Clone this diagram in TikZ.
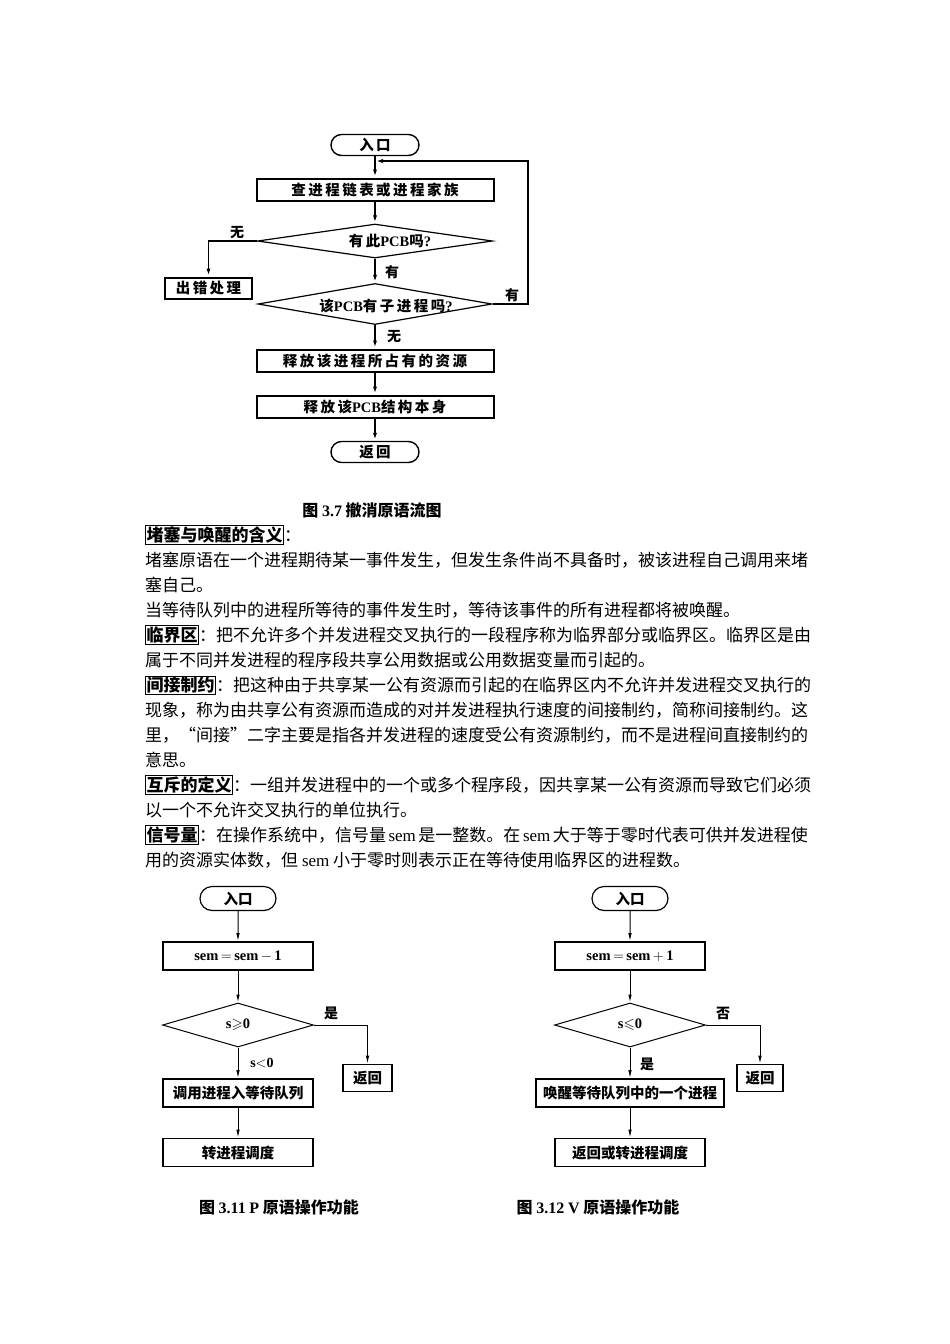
\documentclass[tikz,border=0pt]{standalone}
\usepackage{amssymb}
\usepackage{fontspec}
\setmainfont{Liberation Serif}
\newfontfamily\cjk{Noto Sans CJK SC}
\newfontfamily\cjksp{Noto Sans CJK SC}[LetterSpace=17]
\usetikzlibrary{shapes.geometric,shapes.misc,arrows.meta}
\XeTeXlinebreaklocale "zh"
\XeTeXlinebreakskip=0pt plus 2pt minus 1pt
\newcommand\en[1]{{\rmfamily #1}}
\newcommand\kw[1]{{\setlength\fboxsep{0.6pt}\setlength\fboxrule{0.8pt}\fbox{\bfseries #1}}}
\newcommand\fullline[1]{\makebox[661pt][s]{#1}}

\begin{document}
\begin{tikzpicture}[x=1pt,y=-1pt,
    every node/.style={font=\cjk},
    % figure 3.7
    entry/.style={draw, rounded rectangle, line width=1.4pt, minimum width=88pt, minimum height=21pt, inner sep=0pt, font={\cjksp\bfseries\fontsize{14.5}{14.5}\selectfont}},
    procbox/.style={draw, line width=2pt, minimum width=237pt, minimum height=22pt, inner sep=0pt, font={\cjksp\bfseries\fontsize{14.5}{14.5}\selectfont}},
    ask/.style={draw, diamond, line width=1.2pt, inner sep=0pt},
    asktxt/.style={inner sep=0pt, font={\cjksp\bfseries\fontsize{14.5}{14.5}\selectfont}},
    tag/.style={inner sep=0pt, font={\cjk\bfseries\fontsize{14}{14}\selectfont}},
    flow/.style={-{Latex[length=8pt,width=4pt]}, line width=1.8pt},
    % figures 3.11 and 3.12
    pentry/.style={draw, rounded rectangle, line width=1.2pt, minimum width=76pt, minimum height=24pt, inner sep=0pt, font={\cjk\bfseries\fontsize{14.5}{14.5}\selectfont}},
    pbox/.style={draw, line width=1.6pt, minimum width=150pt, minimum height=28pt, inner sep=0pt, font={\cjk\bfseries\fontsize{14.5}{14.5}\selectfont}},
    pask/.style={draw, diamond, line width=1pt, minimum width=151pt, minimum height=44pt, inner sep=0pt, font={\cjk\bfseries\fontsize{14.5}{14.5}\selectfont}},
    ptag/.style={inner sep=0pt, font={\cjk\bfseries\fontsize{14}{14}\selectfont}},
    pflow/.style={-{Latex[length=8pt,width=3.5pt]}, line width=1pt},
    figcap/.style={inner sep=0pt, font={\cjk\bfseries\fontsize{16}{16}\selectfont}},
    txt/.style={anchor=west, inner sep=0pt, font={\cjk\fontsize{17}{17}\selectfont}}]
  \useasboundingbox (0,0) rectangle (950,1344);

  % ---- Fig. 3.7 ----
  \node[entry] (in1) at (375,145) {入口};
  \node[procbox] (look) at (375,189.5) {查进程链表或进程家族};
  \node[ask, minimum width=235pt, minimum height=34pt] (hasp) at (375,241) {};
  \node[asktxt] (hasptxt) at (390,241) {有此\en{PCB}吗\en{?}};
  \node[procbox, minimum width=87pt, minimum height=21pt] (err) at (208.5,288) {出错处理};
  \node[ask, minimum width=234pt, minimum height=41pt] (child) at (375,304) {};
  \node[asktxt] (childtxt) at (386,306) {该\en{PCB}有子进程吗\en{?}};
  \node[procbox] (rel1) at (375,360.5) {释放该进程所占有的资源};
  \node[procbox] (rel2) at (375,406.5) {释放该\en{PCB}结构本身};
  \node[entry] (out1) at (375,452) {返回};
  \coordinate (back) at (375,161);
  \draw[flow] (in1) -- (look);
  \draw[flow] (look) -- (hasp);
  \draw[flow] (hasp.west) -| (err.north);
  \draw[flow] (hasp) -- (child);
  \draw[flow] (child) -- (rel1);
  \draw[flow] (rel1) -- (rel2);
  \draw[flow] (rel2) -- (out1);
  \draw[flow] (child.east) -- ++(35,0) |- (back);
  \node[tag] (no1) at (237,233) {无};
  \node[tag] (yes1) at (392,272) {有};
  \node[tag] (yes2) at (512,295) {有};
  \node[tag] (no2) at (394,337) {无};
  \node[figcap] (cap1) at (372,510) {图 \en{3.7} 撤消原语流图};

  % ---- text ----
  \node[txt] (t1) at (145,535) {\kw{堵塞与唤醒的含义}：};
  \node[txt] (t2) at (145,560) {\fullline{堵塞原语在一个进程期待某一事件发生，但发生条件尚不具备时，被该进程自己调用来堵}};
  \node[txt] (t3) at (145,585) {塞自己。};
  \node[txt] (t4) at (145,610) {当等待队列中的进程所等待的事件发生时，等待该事件的所有进程都将被唤醒。};
  \node[txt] (t5) at (145,635) {\fullline{\kw{临界区}：把不允许多个并发进程交叉执行的一段程序称为临界部分或临界区。临界区是由}};
  \node[txt] (t6) at (145,660) {属于不同并发进程的程序段共享公用数据或公用数据变量而引起的。};
  \node[txt] (t7) at (145,685) {\fullline{\kw{间接制约}：把这种由于共享某一公有资源而引起的在临界区内不允许并发进程交叉执行的}};
  \node[txt] (t8) at (145,710) {\fullline{现象，称为由共享公有资源而造成的对并发进程执行速度的间接制约，简称间接制约。这}};
  \node[txt] (t9) at (145,735) {\fullline{里，“间接”二字主要是指各并发进程的速度受公有资源制约，而不是进程间直接制约的}};
  \node[txt] (t10) at (145,760) {意思。};
  \node[txt] (t11) at (145,785) {\fullline{\kw{互斥的定义}：一组并发进程中的一个或多个程序段，因共享某一公有资源而导致它们必须}};
  \node[txt] (t12) at (145,810) {以一个不允许交叉执行的单位执行。};
  \node[txt] (t13) at (145,835) {\fullline{\kw{信号量}：在操作系统中，信号量 \en{sem} 是一整数。在 \en{sem} 大于等于零时代表可供并发进程使}};
  \node[txt] (t14) at (145,860) {用的资源实体数，但 \en{sem} 小于零时则表示正在等待使用临界区的进程数。};

  % ---- Fig. 3.11 (P) ----
  \node[pentry] (pin) at (238,898.5) {入口};
  \node[pbox] (pdec) at (238,956) {\en{sem}$\,=\,$\en{sem}$\,-\,$\en{1}};
  \node[pask] (ptest) at (238,1025) {\en{s}$\geqslant$\en{0}};
  \node[pbox, minimum width=49pt, minimum height=27pt] (pret) at (367.5,1078) {返回};
  \node[pbox] (pwait) at (238,1093) {调用进程入等待队列};
  \node[pbox] (psched) at (238,1152.5) {转进程调度};
  \draw[pflow] (pin) -- (pdec);
  \draw[pflow] (pdec) -- (ptest);
  \draw[pflow] (ptest.east) -| (pret.north);
  \draw[pflow] (ptest) -- (pwait);
  \draw[pflow] (pwait) -- (psched);
  \node[ptag] (pyes) at (331,1013) {是};
  \node[ptag] (plt) at (262,1063) {\en{s}$<$\en{0}};
  \node[figcap] (cap2) at (279,1207) {图 \en{3.11} \en{P} 原语操作功能};

  % ---- Fig. 3.12 (V) ----
  \node[pentry] (vin) at (630,898.5) {入口};
  \node[pbox] (vinc) at (630,956) {\en{sem}$\,=\,$\en{sem}$\,+\,$\en{1}};
  \node[pask] (vtest) at (630,1025) {\en{s}$\leqslant$\en{0}};
  \node[pbox, minimum width=46pt, minimum height=27pt] (vret) at (760,1078) {返回};
  \node[pbox, minimum width=188pt] (vwake) at (630,1093) {唤醒等待队列中的一个进程};
  \node[pbox] (vsched) at (630,1152.5) {返回或转进程调度};
  \draw[pflow] (vin) -- (vinc);
  \draw[pflow] (vinc) -- (vtest);
  \draw[pflow] (vtest.east) -| (vret.north);
  \draw[pflow] (vtest) -- (vwake);
  \draw[pflow] (vwake) -- (vsched);
  \node[ptag] (vno) at (723,1013) {否};
  \node[ptag] (vyes) at (647,1064) {是};
  \node[figcap] (cap3) at (598,1207) {图 \en{3.12} \en{V} 原语操作功能};
\end{tikzpicture}
\end{document}
